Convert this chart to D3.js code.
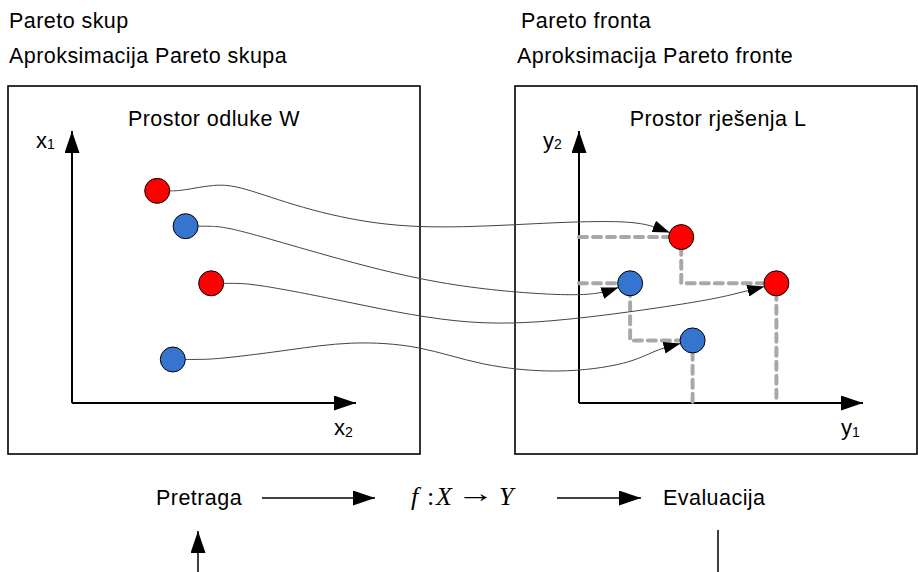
<!DOCTYPE html>
<html>
<head>
<meta charset="utf-8">
<script src="https://cdn.jsdelivr.net/npm/d3@7"></script>
<style>
  body { margin: 0; background: #fff; }
  text { font-family: "Liberation Sans", Arial, sans-serif; fill: #000; }
</style>
</head>
<body>
<div id="chart"></div>
<script>
// decision space points (x2 horizontal, x1 vertical), 0..10 units
const pointIds = ["r1", "b1", "r2", "b2"];
const pointColors = ["red", "#3575d0", "red", "#3575d0"];
const decisionX2 = [3.0, 4.0, 4.9, 3.55];
const decisionX1 = [7.8, 6.5, 4.4, 1.6];
// objective space points (y1 horizontal, y2 vertical)
const objectiveY1 = [3.6, 1.8, 6.95, 4.0];
const objectiveY2 = [6.1, 4.4, 4.4, 2.3];
// the two fronts, listed from top-left to bottom-right
const fronts = [["r1", "r2"], ["b1", "b2"]];

const topLabelsLeft = ["Pareto skup", "Aproksimacija Pareto skupa"];
const topLabelsRight = ["Pareto fronta", "Aproksimacija Pareto fronte"];
const boxTitles = ["Prostor odluke W", "Prostor rješenja L"];
const flowLabels = ["Pretraga", "Evaluacija"];

const width = 918, height = 572;
const fs = 21.5, ls = 0.45;

const svg = d3.select("#chart")
  .append("svg")
  .attr("width", width)
  .attr("height", height);

const defs = svg.append("defs");
function marker(id, w, h) {
  defs.append("marker")
    .attr("id", id)
    .attr("viewBox", "0 0 10 10")
    .attr("preserveAspectRatio", "none")
    .attr("refX", 10).attr("refY", 5)
    .attr("markerUnits", "userSpaceOnUse")
    .attr("markerWidth", w).attr("markerHeight", h)
    .attr("orient", "auto")
    .append("path").attr("d", "M0,0L10,5L0,10Z").attr("fill", "#000");
}
marker("head", 22, 15);
marker("small", 17, 12);

// scales
const xL = d3.scaleLinear().domain([0, 10]).range([72, 356]);
const yL = d3.scaleLinear().domain([0, 10]).range([403, 131]);
const xR = d3.scaleLinear().domain([0, 10]).range([579, 863]);
const yR = d3.scaleLinear().domain([0, 10]).range([403, 131]);
const r = 12.5;

// headers
svg.selectAll(".hl").data(topLabelsLeft).enter().append("text")
  .attr("x", 9).attr("y", (d, i) => 28 + i * 35)
  .attr("font-size", fs).attr("letter-spacing", ls).text(d => d);
svg.selectAll(".hr").data(topLabelsRight).enter().append("text")
  .attr("x", (d, i) => i ? 517 : 521).attr("y", (d, i) => 28 + i * 35)
  .attr("font-size", fs).attr("letter-spacing", ls).text(d => d);

// boxes
const boxes = [{x0: 8, x1: 420}, {x0: 515, x1: 917}];
svg.selectAll(".box").data(boxes).enter().append("rect")
  .attr("x", d => d.x0).attr("y", 86)
  .attr("width", d => d.x1 - d.x0).attr("height", 368)
  .attr("fill", "none").attr("stroke", "#000").attr("stroke-width", 1.6);
svg.selectAll(".bt").data(boxTitles).enter().append("text")
  .attr("x", (d, i) => (boxes[i].x0 + boxes[i].x1) / 2 + (i ? 2 : 0))
  .attr("y", 126).attr("text-anchor", "middle")
  .attr("font-size", fs).attr("letter-spacing", ls).text(d => d);

// axes
function drawAxes(xs, ys, labX, labY) {
  const g = svg.append("g");
  g.append("line")
    .attr("x1", xs(0)).attr("y1", ys(0)).attr("x2", xs(0)).attr("y2", ys(10))
    .attr("stroke", "#000").attr("stroke-width", 2).attr("marker-end", "url(#head)");
  g.append("line")
    .attr("x1", xs(0)).attr("y1", ys(0)).attr("x2", xs(10)).attr("y2", ys(0))
    .attr("stroke", "#000").attr("stroke-width", 2).attr("marker-end", "url(#head)");
  const t1 = g.append("text").attr("x", xs(0) - 36).attr("y", ys(10) + 17).attr("font-size", 22);
  t1.append("tspan").text(labY[0]);
  t1.append("tspan").attr("font-size", 14).attr("dy", 1).text(labY[1]);
  const t2 = g.append("text").attr("x", xs(10) - 22).attr("y", ys(0) + 32).attr("font-size", 22);
  t2.append("tspan").text(labX[0]);
  t2.append("tspan").attr("font-size", 14).attr("dy", 2).text(labX[1]);
}
drawAxes(xL, yL, ["x", "2"], ["x", "1"]);
drawAxes(xR, yR, ["y", "1"], ["y", "2"]);

// pareto step lines (dashed grey)
const byId = id => pointIds.indexOf(id);
fronts.forEach(front => {
  const pts = [];
  front.forEach((id, k) => {
    const i = byId(id);
    if (k === 0) pts.push([xR(0), yR(objectiveY2[i])]);
    else pts.push([xR(objectiveY1[byId(front[k - 1])]), yR(objectiveY2[i])]);
    pts.push([xR(objectiveY1[i]), yR(objectiveY2[i])]);
  });
  const last = byId(front[front.length - 1]);
  pts.push([xR(objectiveY1[last]), yR(0)]);
  svg.append("path")
    .attr("d", d3.line()(pts))
    .attr("fill", "none").attr("stroke", "#a8a8a8")
    .attr("stroke-width", 4).attr("stroke-dasharray", "8,6")
    .attr("stroke-linecap", "round");
});

// mapping curves, shape bends in screen pixels
const bends = {
  r1: [[215, 184], [240, 186], [300, 208], [380, 226], [460, 228], [560, 222], [620, 221], [648, 224]],
  b1: [[230, 227], [320, 254], [440, 286], [560, 296], [600, 294]],
  r2: [[255, 284], [330, 298], [460, 326], [560, 322], [700, 302], [735, 294]],
  b2: [[220, 359], [290, 350], [350, 341], [420, 345], [480, 366], [560, 374], [630, 364], [655, 350]]
};
const curve = d3.line().curve(d3.curveBasis);
pointIds.forEach((id, i) => {
  const s = [xL(decisionX2[i]) + r, yL(decisionX1[i])];
  const cx = xR(objectiveY1[i]), cy = yR(objectiveY2[i]);
  const b = bends[id];
  const prev = b[b.length - 1];
  const ang = Math.atan2(cy - prev[1], cx - prev[0]);
  const e = [cx - r * Math.cos(ang), cy - r * Math.sin(ang)];
  svg.append("path")
    .attr("d", curve([s, [s[0] + 12, s[1]], ...b, e]))
    .attr("fill", "none").attr("stroke", "#444").attr("stroke-width", 1)
    .attr("marker-end", "url(#small)");
});

// circles
svg.selectAll(".pl").data(pointIds).enter().append("circle")
  .attr("cx", (d, i) => xL(decisionX2[i])).attr("cy", (d, i) => yL(decisionX1[i]))
  .attr("r", r).attr("fill", (d, i) => pointColors[i])
  .attr("stroke", "#000").attr("stroke-width", 1);
svg.selectAll(".pr").data(pointIds).enter().append("circle")
  .attr("cx", (d, i) => xR(objectiveY1[i])).attr("cy", (d, i) => yR(objectiveY2[i]))
  .attr("r", r).attr("fill", (d, i) => pointColors[i])
  .attr("stroke", "#000").attr("stroke-width", 1);

// bottom flow
svg.append("text").attr("x", 156).attr("y", 505).attr("font-size", fs).attr("letter-spacing", ls).text(flowLabels[0]);
svg.append("text").attr("x", 663).attr("y", 505).attr("font-size", fs).attr("letter-spacing", ls).text(flowLabels[1]);
const serif = "'Liberation Serif', 'Times New Roman', serif";
const f = svg.append("text").attr("y", 505)
  .attr("font-size", 26).style("font-family", serif);
f.append("tspan").attr("x", 411).attr("font-style", "italic").text("f");
f.append("tspan").attr("x", 427).text(":");
f.append("tspan").attr("x", 436).attr("font-style", "italic").text("X");
f.append("tspan").attr("x", 499).attr("font-style", "italic").text("Y");
svg.append("text")
  .attr("transform", "translate(457,502) scale(1.45,1)")
  .attr("font-size", 26).style("font-family", serif).text("→");

[[262, 375], [557, 641]].forEach(([a, b]) => {
  svg.append("line").attr("x1", a).attr("y1", 498).attr("x2", b).attr("y2", 498)
    .attr("stroke", "#000").attr("stroke-width", 1.5).attr("marker-end", "url(#head)");
});
svg.append("line").attr("x1", 198).attr("y1", 572).attr("x2", 198).attr("y2", 531)
  .attr("stroke", "#000").attr("stroke-width", 1.5).attr("marker-end", "url(#head)");
svg.append("line").attr("x1", 718).attr("y1", 530).attr("x2", 718).attr("y2", 572)
  .attr("stroke", "#000").attr("stroke-width", 1.5);
</script>
</body>
</html>
